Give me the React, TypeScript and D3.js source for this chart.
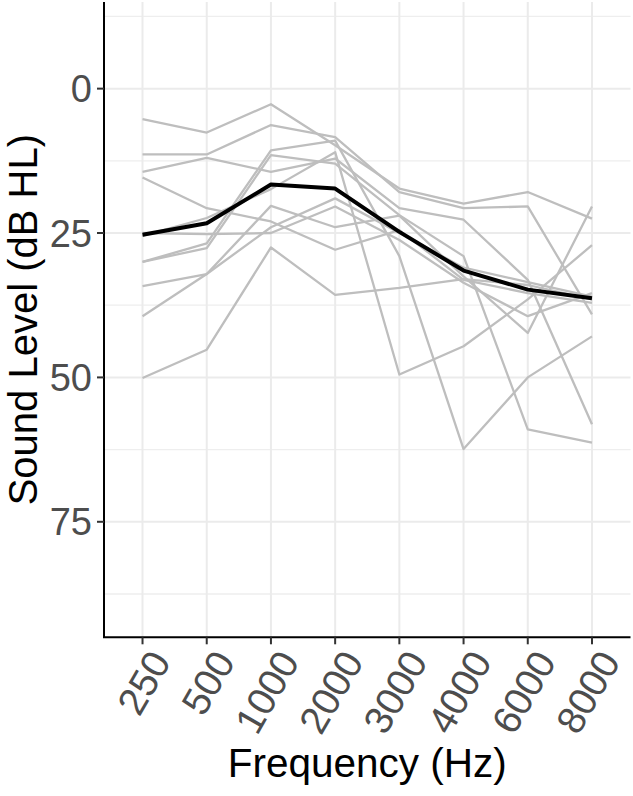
import React from "react";
import * as d3 from "d3";

const frequencies = ["250", "500", "1000", "2000", "3000", "4000", "6000", "8000"];

const participant01 = [5.3, 7.6, 2.7, 9.8, 17.3, 19.9, 17.9, 22.5];
const participant02 = [11.4, 11.4, 6.3, 8.4, 17.9, 20.7, 20.4, 39.1];
const participant03 = [14.4, 12.0, 14.4, 12.1, 20.7, 22.7, 33.1, 58.1];
const participant04 = [15.4, 20.7, 23.0, 27.9, 24.5, 33.1, 35.4, 37.1];
const participant05 = [25.0, 25.2, 25.0, 20.4, 26.2, 33.6, 39.4, 35.4];
const participant06 = [25.5, 22.4, 17.4, 11.0, 49.5, 44.6, 36.5, 27.1];
const participant07 = [30.0, 26.8, 10.7, 9.0, 29.0, 62.4, 50.0, 42.9];
const participant08 = [30.0, 27.6, 11.5, 13.0, 21.9, 29.0, 59.0, 61.3];
const participant09 = [34.2, 32.1, 20.3, 24.0, 22.0, 32.5, 42.3, 20.4];
const participant10 = [39.4, 32.1, 24.0, 19.0, 25.0, 31.0, 33.5, 36.0];
const participant11 = [50.1, 45.2, 27.5, 35.7, 34.5, 33.0, 34.0, 36.5];

const participants = [
  participant01, participant02, participant03, participant04, participant05, participant06,
  participant07, participant08, participant09, participant10, participant11,
];

const average = [25.3, 23.3, 16.6, 17.3, 24.8, 31.5, 34.8, 36.3];

const yMajorTicks = [0, 25, 50, 75];
const yMinorTicks = [-12.5, 12.5, 37.5, 62.5, 87.5];

const W = 633;
const H = 796;
const left = 104;
const right = 630.5;
const top = 2;
const bottom = 637.3;
const font = "'Liberation Sans', Arial, Helvetica, sans-serif";

export default function App() {
  const x = d3.scalePoint<string>().domain(frequencies).range([left, right]).padding(0.6);
  const y = d3.scaleLinear().domain([-15, 95]).range([top, bottom]);
  const line = d3
    .line<number>()
    .x((_, i) => x(frequencies[i]) as number)
    .y((d) => y(d));

  return (
    <svg
      width={W}
      height={H}
      style={{ position: "absolute", left: 0, top: 0, background: "#fff" }}
      fontFamily={font}
    >
      <rect x={0} y={0} width={W} height={H} fill="#fff" />
      {/* grid */}
      {yMinorTicks.map((t) => (
        <line key={"mn" + t} x1={left} x2={right} y1={y(t)} y2={y(t)} stroke="#EEEEEE" strokeWidth={1.3} />
      ))}
      {yMajorTicks.map((t) => (
        <line key={"mj" + t} x1={left} x2={right} y1={y(t)} y2={y(t)} stroke="#EBEBEB" strokeWidth={2} />
      ))}
      {frequencies.map((f) => (
        <line key={"vx" + f} x1={x(f)} x2={x(f)} y1={top} y2={bottom} stroke="#EBEBEB" strokeWidth={2} />
      ))}
      {/* participant lines */}
      {participants.map((p, i) => (
        <path key={"p" + i} d={line(p) || ""} fill="none" stroke="#BEBEBE" strokeWidth={2.3} strokeLinejoin="round" />
      ))}
      <path d={line(average) || ""} fill="none" stroke="#000" strokeWidth={4} strokeLinejoin="round" />
      {/* axes */}
      <line x1={left} x2={left} y1={top} y2={bottom} stroke="#000" strokeWidth={2} />
      <line x1={left - 1} x2={right} y1={bottom} y2={bottom} stroke="#000" strokeWidth={2} />
      {yMajorTicks.map((t) => (
        <g key={"yt" + t}>
          <line x1={left - 7} x2={left} y1={y(t)} y2={y(t)} stroke="#333" strokeWidth={2} />
          <text
            x={left - 12}
            y={y(t)}
            dy="0.36em"
            textAnchor="end"
            fontSize={38}
            fill="#4D4D4D"
          >
            {t}
          </text>
        </g>
      ))}
      {frequencies.map((f) => (
        <g key={"xt" + f}>
          <line x1={x(f)} x2={x(f)} y1={bottom} y2={bottom + 7} stroke="#333" strokeWidth={2} />
          <text
            transform={`translate(${(x(f) as number) + 5},${bottom + 10}) rotate(-60)`}
            dy="0.72em"
            textAnchor="end"
            fontSize={39}
            fill="#4D4D4D"
          >
            {f}
          </text>
        </g>
      ))}
      {/* titles */}
      <text x={(left + right) / 2} y={777} textAnchor="middle" fontSize={40.5} fill="#000">
        Frequency (Hz)
      </text>
      <text
        transform={`translate(37,${(top + bottom) / 2}) rotate(-90)`}
        textAnchor="middle"
        fontSize={40}
        fill="#000"
      >
        Sound Level (dB HL)
      </text>
    </svg>
  );
}
